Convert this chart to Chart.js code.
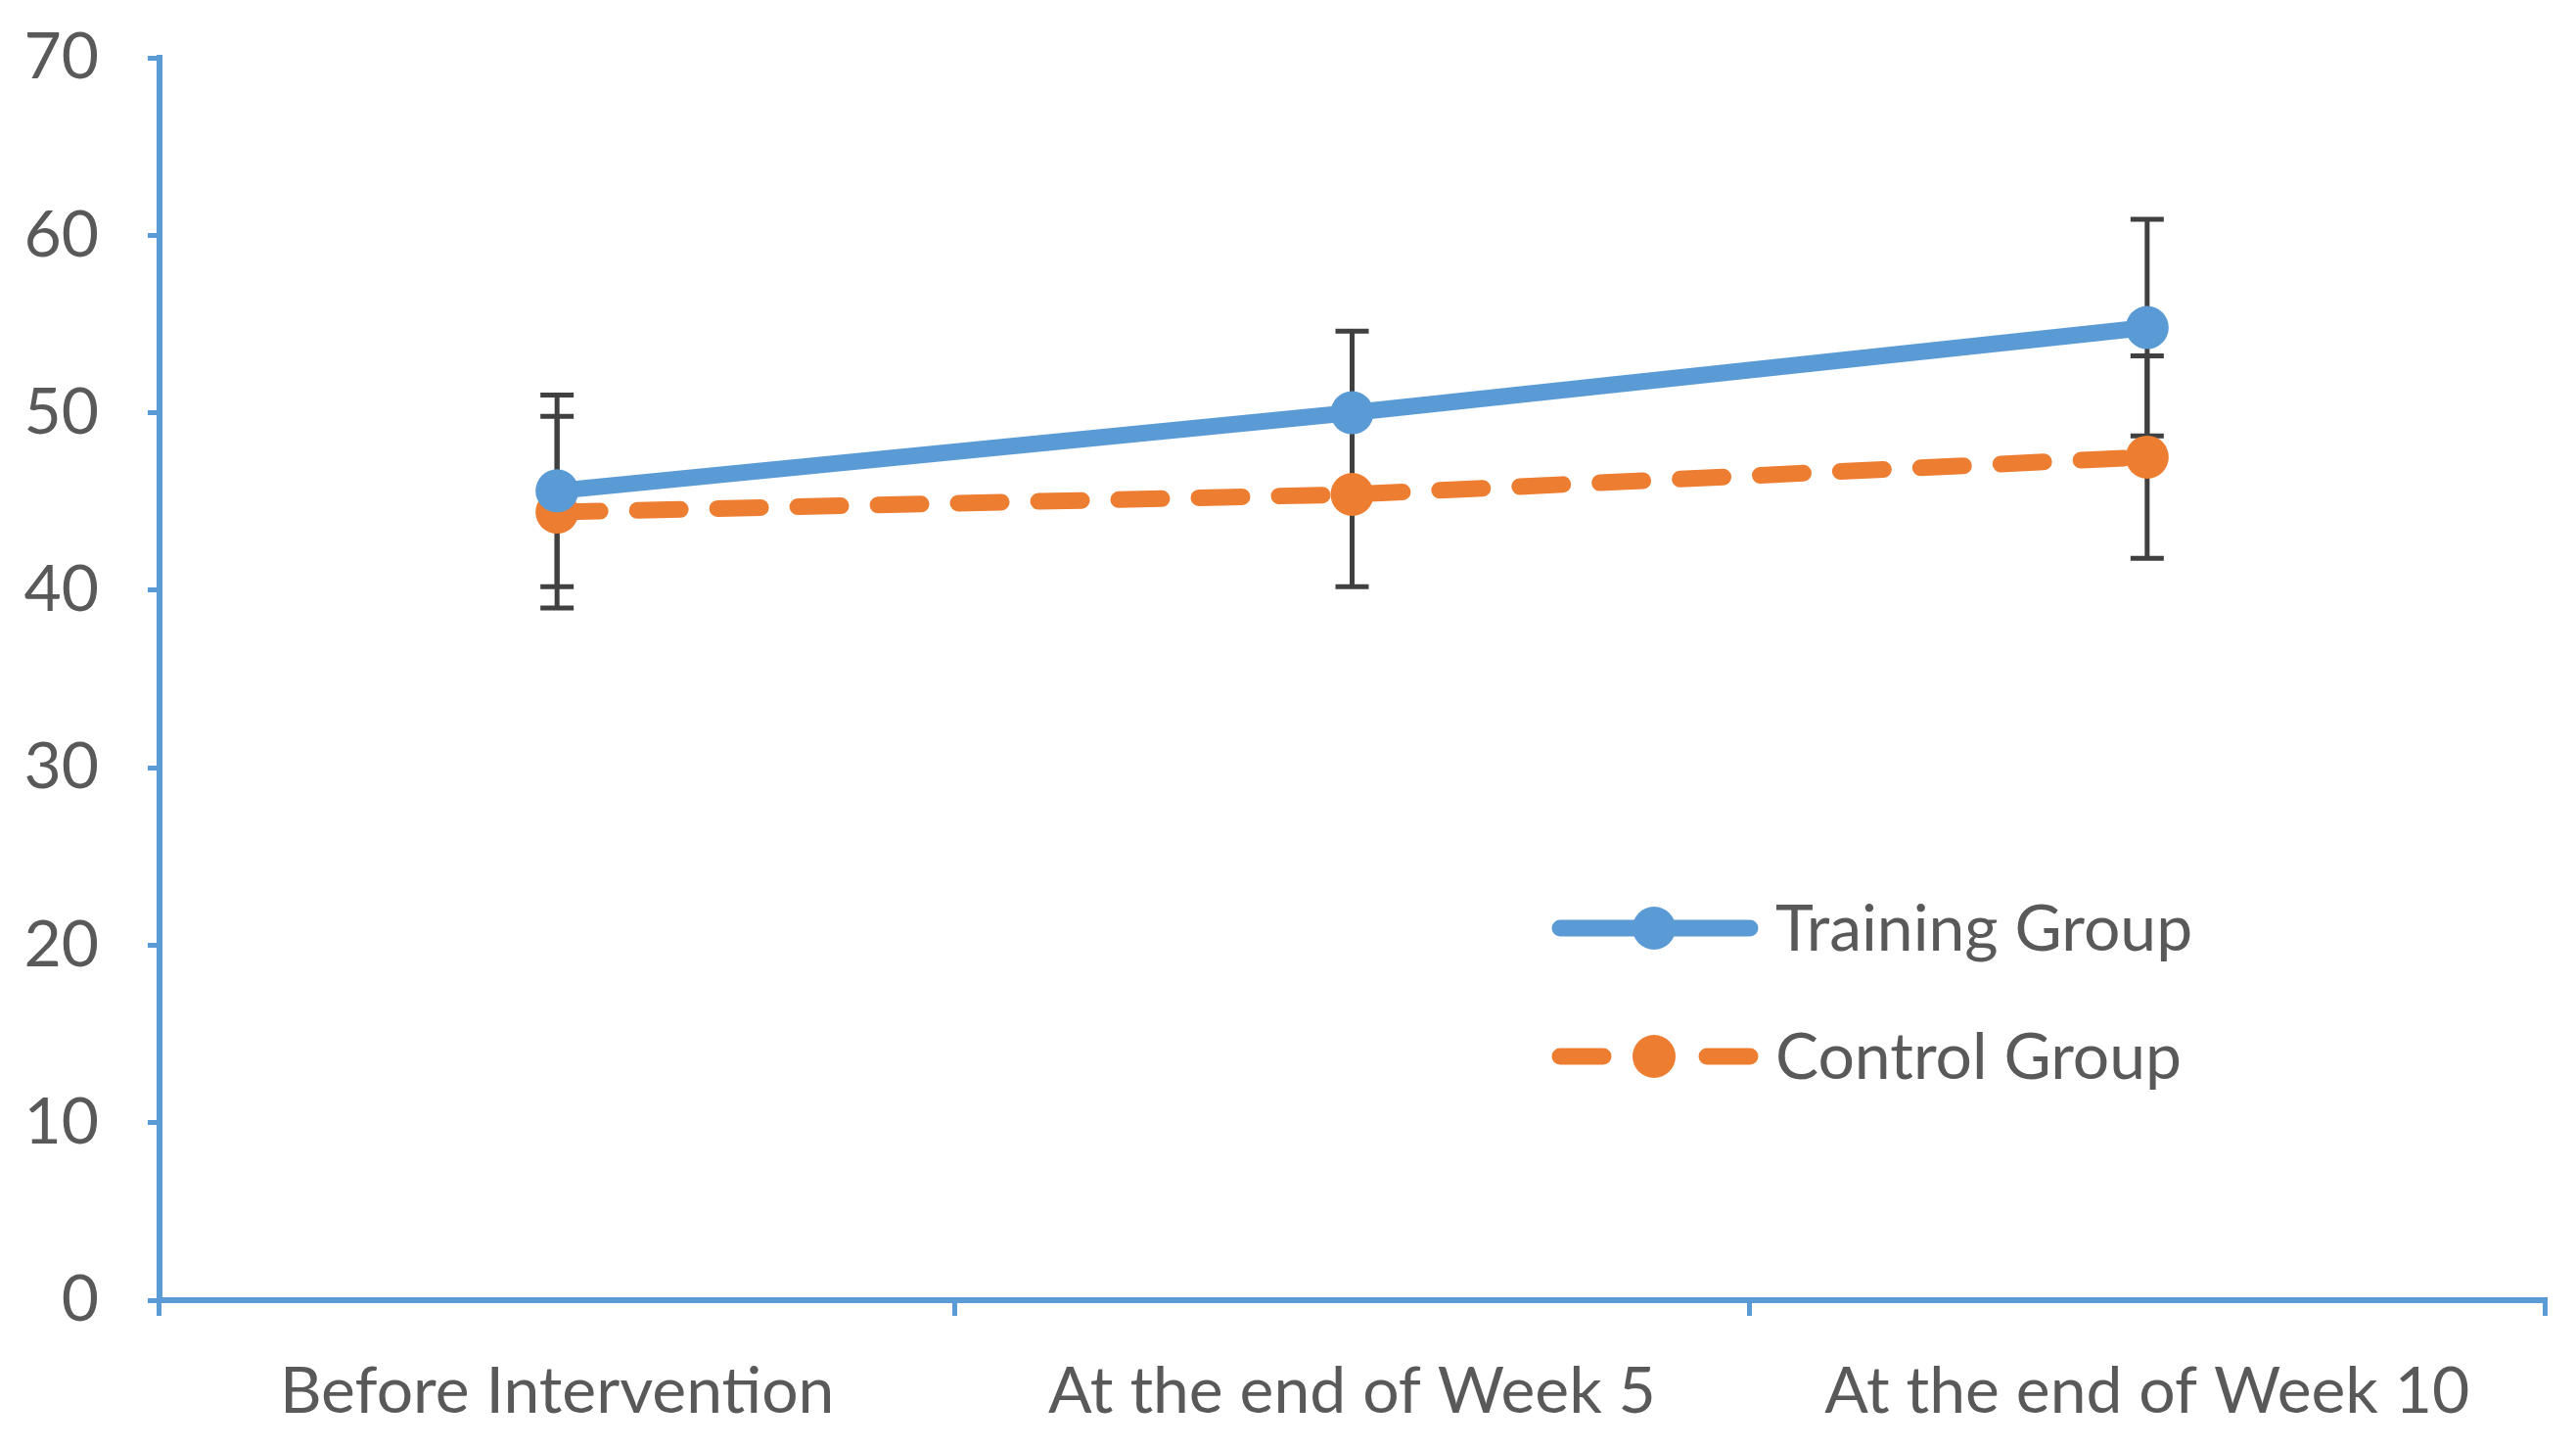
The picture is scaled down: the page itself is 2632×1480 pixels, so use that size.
<!DOCTYPE html>
<html>
<head>
<meta charset="utf-8">
<script src="https://cdn.jsdelivr.net/npm/chart.js@4/dist/chart.umd.min.js"></script>
<style>
  html, body { margin: 0; padding: 0; background: #fff; }
</style>
</head>
<body>
<canvas id="chart" width="2632" height="1480"></canvas>
<script>
const categories = ['Before Intervention', 'At the end of Week 5', 'At the end of Week 10'];
const trainingMeans = [45.6, 50.0, 54.8];
const trainingErrors = [5.4, 4.6, 6.1];
const controlMeans = [44.4, 45.4, 47.5];
const controlErrors = [5.4, 5.2, 5.7];
const yTickLabels = ['0', '10', '20', '30', '40', '50', '60', '70'];

const BLUE = '#5B9BD5';
const ORANGE = '#ED7D31';
const TEXT = '#595959';

// vertical error bars with caps, drawn under the lines
const errorBars = {
    id: 'errorBars',
    beforeDatasetsDraw(chart) {
        const ctx = chart.ctx;
        const y = chart.scales.y;
        ctx.save();
        ctx.strokeStyle = '#404040';
        ctx.lineWidth = 5;
        chart.data.datasets.forEach((ds, di) => {
            chart.getDatasetMeta(di).data.forEach((pt, i) => {
                const top = y.getPixelForValue(ds.data[i] + ds.errors[i]);
                const bot = y.getPixelForValue(ds.data[i] - ds.errors[i]);
                ctx.beginPath();
                ctx.moveTo(pt.x, top);
                ctx.lineTo(pt.x, bot);
                ctx.moveTo(pt.x - 17, top);
                ctx.lineTo(pt.x + 17, top);
                ctx.moveTo(pt.x - 17, bot);
                ctx.lineTo(pt.x + 17, bot);
                ctx.stroke();
            });
        });
        ctx.restore();
    }
};

// legend sitting inside the plot area
const innerLegend = {
    id: 'innerLegend',
    afterDraw(chart) {
        const ctx = chart.ctx;
        const rows = [948, 1079];
        const x0 = 1594, x1 = 1788, xm = 1690;
        ctx.save();
        chart.data.datasets.forEach((ds, i) => {
            const yy = rows[i];
            ctx.strokeStyle = ds.borderColor;
            ctx.lineWidth = ds.borderWidth;
            ctx.lineCap = 'round';
            ctx.beginPath();
            if (ds.borderDash) {
                ctx.moveTo(x0, yy);
                ctx.lineTo(x0 + 44, yy);
                ctx.moveTo(x1 - 44, yy);
                ctx.lineTo(x1, yy);
            } else {
                ctx.moveTo(x0, yy);
                ctx.lineTo(x1, yy);
            }
            ctx.stroke();
            ctx.fillStyle = ds.pointBackgroundColor;
            ctx.beginPath();
            ctx.arc(xm, yy, ds.pointRadius, 0, Math.PI * 2);
            ctx.fill();
            ctx.fillStyle = TEXT;
            ctx.font = '66px Lato';
            ctx.textBaseline = 'middle';
            ctx.fillText(ds.label, 1814, yy + 2);
        });
        ctx.restore();
    }
};

new Chart(document.getElementById('chart'), {
    type: 'line',
    data: {
        labels: categories,
        datasets: [
            {
                label: 'Training Group',
                data: trainingMeans,
                errors: trainingErrors,
                borderColor: BLUE,
                backgroundColor: BLUE,
                borderWidth: 17,
                pointRadius: 22,
                pointBorderWidth: 0,
                pointBackgroundColor: BLUE,
                tension: 0,
            },
            {
                label: 'Control Group',
                data: controlMeans,
                errors: controlErrors,
                borderColor: ORANGE,
                backgroundColor: ORANGE,
                borderWidth: 17,
                borderDash: [44, 38],
                borderCapStyle: 'round',
                pointRadius: 22,
                pointBorderWidth: 0,
                pointBackgroundColor: ORANGE,
                tension: 0,
            },
        ],
    },
    options: {
        responsive: false,
        devicePixelRatio: 1,
        animation: false,
        layout: { padding: { left: 0, right: 32, top: 59, bottom: 0 } },
        plugins: { legend: { display: false }, tooltip: { enabled: false } },
        scales: {
            x: {
                type: 'category',
                offset: true,
                afterFit: (s) => { s.height = 152; },
                grid: {
                    offset: true,
                    drawOnChartArea: false,
                    tickLength: 16,
                    color: BLUE,
                    lineWidth: 5,
                },
                border: { color: BLUE, width: 6 },
                ticks: {
                    color: TEXT,
                    font: { family: 'Lato', size: 66 },
                    padding: 38,
                    maxRotation: 0,
                },
            },
            y: {
                min: 0,
                max: 70,
                afterFit: (s) => {
                    s.width = 163;
                    s.paddingTop = 0;
                    s.paddingBottom = 0;
                },
                grid: {
                    drawOnChartArea: false,
                    tickLength: 12,
                    color: BLUE,
                    lineWidth: 5,
                },
                border: { color: BLUE, width: 6 },
                ticks: {
                    stepSize: 10,
                    color: TEXT,
                    padding: 50,
                    font: { family: 'Lato', size: 66 },
                    callback: (v, i) => yTickLabels[i],
                },
            },
        },
    },
    plugins: [errorBars, innerLegend],
});
</script>
</body>
</html>
